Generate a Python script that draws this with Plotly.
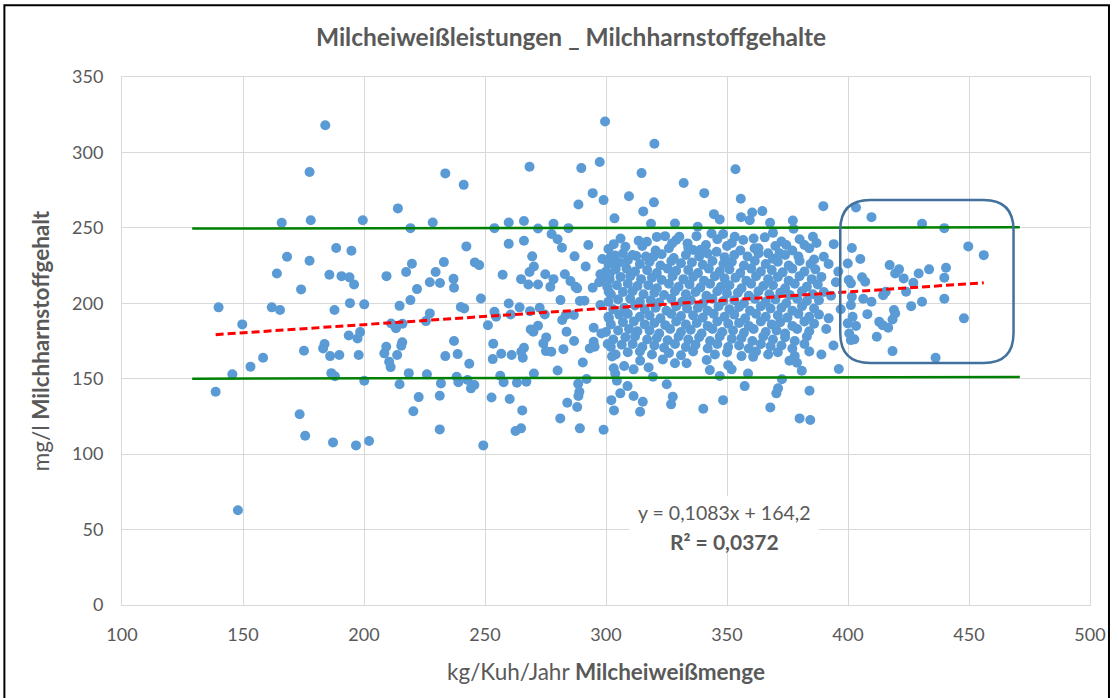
import plotly.graph_objects as go

# ---------------- data: (kg protein / cow / year, mg/l urea) ----------------
low_yield_cows = [
    (184,318),(177.5,287),(166,253.4),(178,255),(199.5,255),(188.5,236.6),(194.8,234.8),(168.2,230.8),
    (177.5,228.2),(164,219.8),(185.7,218.9),(190.7,218),(194,217.2),(195.9,212.5),(174,209.2),
    (139.9,197.3),(161.9,197.3),(165.3,195.5),(187.8,195.5),(194.2,200.1),(200.1,199.3),(149.7,186),
    (193.7,178.7),(198.4,180.9),(197.3,176.7),(175.2,168.5),(183.7,173),(183.1,170.1),(186,165),
    (189.8,165.7),(197.8,165.7),(158.3,163.9),(153.1,158),(145.6,152.9),(186.5,153.7),(188,151.6),
    (200.1,148.6),(138.7,141.4),(173.4,126.4),(175.7,112.2),(187.2,107.8),(196.7,105.8),(202.1,108.7),
    (147.9,62.8),
]

mid_upper_cows = [
    (299.6,320.5),(268.4,290.5),(289.8,289.6),(297.4,293.6),(233.6,286.1),(241.2,278.5),(294.5,273),
    (299,268.4),(288.6,265.5),(214,262.9),(228.4,253.6),(219.2,249.8),(253.9,249.8),(259.8,253.6),
    (266.1,254.5),(271.9,249.6),(278.3,252.7),(284.5,249.8),(303.5,256.3),(277.5,245.9),(280,242.5),
    (281.8,236.8),(259.8,239.4),(266.1,241.4),(292.7,238.6),(242.3,237.7),(303.2,239.2),(269.5,231.1),
    (287,231.1),(298.5,229.3),(301.4,228.2),(291.6,224.4),(245.8,227.1),(247.6,225.3),(233,227.3),
    (219.8,226.2),(270.2,224.4),(268.4,220.7),(209.3,218),(217.4,220.7),(229.6,220.7),(237,216.2),
    (227.2,214),(231.4,213.4),(221.9,209.4),(237.2,210.3),(257.3,218.9),(264.9,216),(267.9,212.5),
    (271.9,212.5),(274.9,219.2),(278.3,216),(277,210.9),(283,219.2),(285.3,214.7),(287.4,210.9),
    (294.5,210.3),(297.7,219.2),(297.2,213.9),(300,214.7),(301.5,219.2),(303.2,226.4),(303.7,231.7),
]

mid_lower_cows = [
    (219.2,202.1),(214.7,198.3),(248.3,203.2),(240,197.5),(241.4,196.6),(227.2,193.3),(225.6,188.2),
    (211.2,186.6),(213.2,183.4),(215.9,186.4),(215.8,174.1),(215.4,171.8),(209.2,171.2),(208.4,166.8),
    (213.7,165.7),(210.4,161.3),(211,157.7),(237.2,175),(233.6,165),(238.7,166.3),(243.5,159.9),
    (218.5,153.7),(226,152.9),(214.7,146.3),(231.8,146.9),(238.3,151.3),(239,147.6),(242.8,149.1),
    (244.2,143.6),(245.6,145.8),(222.6,137.8),(231.3,138.7),(220.4,128.4),(231.3,116.4),(249.3,105.8),
    (251.2,185.4),(253.4,173.2),(253.2,163),(256.7,166.5),(253.9,194.4),(254.6,191.1),(259.8,199.9),
    (264.3,197.3),(260.6,192.6),(261,165.7),(265,167.9),(266.1,170.5),(265.6,163.9),(256.3,152),
    (257.7,147.6),(263.2,147.3),(267.1,148),(270.2,153.5),(252.7,137.6),(260.2,136.5),(265.4,129),
    (262.6,115.3),(264.9,117.1),(268.6,194.8),(272.6,197),(268.9,182.7),(271.9,185.1),(270,181.1),
    (274.1,173.4),(275.3,177.4),(275.2,168.3),(277.4,167.9),(282.4,169.6),(286.8,175),(280,155.5),
    (290.4,160.8),(292,149.8),(288.5,146.7),(289,141.4),(288.6,138.5),(284,134.1),(288.1,131.2),
    (281.1,123.7),(289.2,117.1),(299,116.2),(274.7,192.6),(281.2,202.1),(281.9,188.9),(283.7,181.1),
    (283.4,192.2),(286.7,192.2),(289.2,201.5),(291.1,201.7),(297.7,198.8),(294.9,183.8),(298.1,180),
    (294.9,174.5),(295.3,171.2),(293.3,170.1),(301.2,190),(300.7,173),(302.5,164.8),(303.2,156.9),
    (302.2,135.8),(303.3,129),(288.1,209.9),(301.1,207.6),
]

high_upper_cows = [
    (320,305.7),(314.7,286.3),(332.1,279.7),(353.5,288.9),(340.6,273),(355.7,269.3),(309.5,271),
    (315.4,260.9),(319.8,266.9),(389.8,264.4),(355.8,257.1),(360.4,260.2),(364.6,261.1),(359.4,255.1),
    (344.6,259.1),(347,255.6),(318.6,252.7),(328.5,252.9),(337.9,250.7),(377.2,254.9),(377.5,249.4),
    (367.8,253.4),(394.1,239.2),(316.9,240.8),(312.5,231.3),(324.4,244.5),(327.3,239.7),(330.3,244.1),
    (333.7,239.7),(337.4,244.5),(341.3,238.6),(343.6,246.3),(348.4,245.9),(353.2,244.1),(356.7,241.9),
    (365.6,243.7),(369,246.7),(374.5,238.6),(382,238.6),(385.5,244.1),(390,230.8),(336,235.3),
    (345.7,234.1),(361.4,236.4),(367,233.1),(371.7,233.1),(319.6,230.8),
]

high_lower_cows = [
    (303.8,153.5),(304.5,148.6),(305.9,140.3),(308.9,145.1),(311.4,138.5),(315.2,134.7),(314.1,128.1),
    (307.5,158.4),(311.4,156.2),(314.1,161.9),(317.6,157.5),(319.4,151.3),(323.5,162.8),(325.1,146.3),
    (327.6,138),(326.9,133),(328.5,160.2),(333.3,160.2),(340.2,130.1),(342.9,155.7),(347,151.8),
    (348.4,135.8),(350.5,159),(351.9,156.2),(341.6,162.4),(357.3,145.1),(358.7,153.5),(360.8,164.5),
    (367.9,131),(370.4,140.3),(371.1,143.6),(372.7,149.6),(375.8,161.9),(378.9,160.6),(380.9,155.3),
    (384.1,142),(380,123.7),(384.4,122.6),(396.2,156.4),
    (392,226),(395,214),(393,205),(397,196),(391,183),(394,172),(389,166),(396,221),(392,190),
]

top_yield_cows = [
    (403.3,263.5),(409.7,257.1),(430.6,252.7),(439.8,249.8),(449.7,237.7),(456.1,231.9),(401.6,236.6),
    (405.1,229.3),(399.9,226.4),(417.2,225.3),(421.1,222.5),(419.5,219.8),(429.2,219.8),(433.5,222.5),
    (440.5,223.5),(439.8,216.9),(423,216.5),(427,213.6),(424,207.6),(400.3,215.4),(405.8,217.2),
    (407.1,214.3),(401.2,213.2),(414.5,205.4),(415.6,207.6),(401.6,204.3),(406.3,203),(409.7,201),
    (401.2,198.8),(439.8,203),(430.6,201),(426.1,198.1),(419,195.5),(419.5,193.3),(408,192.8),
    (401.9,191),(418.4,189.3),(412.9,187.7),(414.3,185.5),(416.6,183.8),(403.3,184.9),(399.9,186.7),
    (447.9,190),(400.5,180),(401.2,175.6),(402.6,176.1),(411.9,177.8),(418.4,168.3),(436.2,163.9),
]

core_cows = [
    (306,243),(313.5,241.5),(321,244),(329,242),(346,242.5),(352,240),(361,243),(372.5,241),(380,242.5),(387,240),
    (301,236),(308,237.5),(315,238),(320.5,235),(326,236.5),(334,237),(339,235.5),(350,238),(355.5,235),(363,236.5),
    (370,238),(377,235),(384,236.5),
    (302,231),(307,233),(311,232),(316.5,231),(323,232.5),(328,230),(333,232),(338.5,231),(342,233),(349,230.5),
    (353,232),(358.5,231),(363,233),(369,229.5),(374,232),(379.5,231),(386,229),
    (301,226),(305.5,227),(309,228.5),(314,226),(318,227.5),(322.5,225),(327,228),(331,226.5),(335.5,227),(340,225.5),
    (344,228),(348.5,226),(352,227.5),(357,225),(361.5,228),(366,226),(371,227.5),(375.5,225),(380,228),(384.5,226),
    (300,221),(304,222.5),(308.5,223),(312,221),(317,222),(321,220),(325.5,223),(329,221.5),(334,222),(338,220),
    (342.5,223),(347,221),(351,222.5),(355.5,220),(360,223),(364,221),(368.5,222),(373,220.5),(377,223),(382,221),(386.5,222.5),
    (301.5,216),(306,217.5),(310,218),(314.5,216),(319,217),(323,215.5),(327.5,218),(332,216),(336,217.5),(340.5,215),
    (345,218),(349,216.5),(353.5,217),(358,215),(362,218),(367,216),(371,217.5),(375.5,215),(380,218),(385,216),(389,217.5),
    (300.5,211),(304.5,212),(309,213),(313,211.5),(317.5,212),(321,210),(326,213),(330,211),(334.5,212.5),(339,210.5),
    (343,213),(347.5,211),(351,212),(356,210),(360,213),(365,211.5),(369,212),(374,210),(378,213),(383,211),(387.5,212.5),
    (302,206),(307,207.5),(311,208),(315.5,206),(320,207),(324,205.5),(328.5,208),(333,206),(337,207.5),(341.5,205),
    (346,208),(350,206.5),(354.5,207),(359,205),(363,208),(367.5,206),(372,207),(376,205.5),(381,208),(385.5,206),(390,207.5),
    (301,201),(305,202.5),(310,203),(314,201),(318.5,202),(322,200.5),(327,203),(331.5,201),(335,202),(340,200),
    (344,203),(348.5,201.5),(353,202),(357,200),(361.5,203),(366,201),(370,202.5),(374.5,200),(379,203),(383,201.5),(388,202),
    (303,196),(307.5,197),(312,198.5),(316,196),(320.5,197),(325,195),(329,198),(333.5,196.5),(338,197),(342,195),
    (346.5,198),(351,196),(355,197.5),(359.5,195),(364,198),(368,196.5),(372.5,197),(377,195),(381,198),(386,196.5),
    (301,191),(305.5,192.5),(309,193),(314,191),(318,192),(322.5,190),(327,193),(331,191.5),(336,192),(340,190.5),
    (344.5,193),(349,191),(353,192.5),(357.5,190),(362,193),(366,191),(371,192),(375,190.5),(379.5,193),(384,191),(388,192.5),
    (302,186),(307,187.5),(311.5,188),(316,186),(320,187),(324.5,185.5),(329,188),(333,186),(337.5,187),(342,185),
    (346,188),(350.5,186.5),(355,187),(359,185),(364,188),(368.5,186),(372,187.5),(377,185),(382,188),(386,186.5),
    (300,181),(305,182),(309.5,183),(313,181.5),(318,182),(322,180),(326.5,183),(331,181),(335,182.5),(339.5,180),
    (344,183),(348,181),(352.5,182),(357,180.5),(361,183),(366,181),(370.5,182),(374,180),(379,183),(384,181.5),
    (303,176),(308,177.5),(312,178),(317,176),(321,177),(325.5,175.5),(330,178),(334,176),(338.5,177.5),(343,175),
    (347,178),(352,176.5),(356,177),(360.5,175),(365,178),(369,176),(374,177.5),(378,175),(383,178),
    (302,171),(306.5,172.5),(311,173),(315,171),(320,172),(324,170.5),(328.5,173),(333,171),(337,172.5),(342,170),
    (346,173),(350.5,171),(355,172),(359,170),(364,173),(368,171.5),(372.5,172),(377,170),(382,173),
    (304,166),(309,167.5),(314,168),(319,166),(326,167),(331,165.5),(336,168),(345,166),(350,167.5),(356,165),
    (362,168),(367,166),(371,167.5),(378,165),(384,168),
]

# trendline (as printed in the chart) and limit lines
TREND_SLOPE = 0.1083
TREND_INTERCEPT = 164.2
LIMIT_X = [129, 471]
UPPER_LIMIT = [249.5, 250.4]
LOWER_LIMIT = [150.0, 151.2]

X_TICKS = [100, 150, 200, 250, 300, 350, 400, 450, 500]
Y_TICKS = [0, 50, 100, 150, 200, 250, 300, 350]

all_cows = (low_yield_cows + mid_upper_cows + mid_lower_cows + high_upper_cows
            + high_lower_cows + top_yield_cows + core_cows)
protein = [c[0] for c in all_cows]
urea = [c[1] for c in all_cows]

GRAY = "#595959"
FONT = "Lato, 'Open Sans', sans-serif"

fig = go.Figure()
fig.add_trace(go.Scatter(
    x=protein, y=urea, mode="markers",
    marker=dict(color="#5B9BD5", size=10, line=dict(width=0)),
    hoverinfo="x+y",
))

# limit lines
fig.add_trace(go.Scatter(x=LIMIT_X, y=UPPER_LIMIT, mode="lines",
                         line=dict(color="#008000", width=2.5), hoverinfo="skip"))
fig.add_trace(go.Scatter(x=LIMIT_X, y=LOWER_LIMIT, mode="lines",
                         line=dict(color="#008000", width=2.5), hoverinfo="skip"))

# linear trendline across data range
tx = [min(protein), max(protein)]
ty = [TREND_SLOPE * v + TREND_INTERCEPT for v in tx]
fig.add_trace(go.Scatter(x=tx, y=ty, mode="lines",
                         line=dict(color="#FF0000", width=3, dash="8px,4px"), hoverinfo="skip"))

# rounded highlight box
bx0, bx1, by0, by1 = 396.8, 468.4, 160.4, 268.4
rx, ry = 12.4, 19.9
path = (f"M {bx0+rx},{by1} L {bx1-rx},{by1} Q {bx1},{by1} {bx1},{by1-ry} "
        f"L {bx1},{by0+ry} Q {bx1},{by0} {bx1-rx},{by0} L {bx0+rx},{by0} "
        f"Q {bx0},{by0} {bx0},{by0+ry} L {bx0},{by1-ry} Q {bx0},{by1} {bx0+rx},{by1} Z")
fig.add_shape(type="path", path=path, xref="x", yref="y",
              line=dict(color="#41719C", width=2.5), layer="above")

# white label background
fig.add_shape(type="rect", xref="x", yref="y", x0=309.7, x1=388.0, y0=34.4, y1=72.2,
              fillcolor="white", line=dict(width=0), layer="between")

# outer frame
fig.add_shape(type="rect", xref="paper", yref="paper", x0=-0.1215, x1=1.0196, y0=-0.25, y1=1.136,
              line=dict(color="black", width=2), fillcolor="rgba(0,0,0,0)", layer="above")

fig.add_annotation(x=349, y=61.2, xref="x", yref="y", text="y = 0,1083x + 164,2",
                   showarrow=False, font=dict(family=FONT, size=19.5, color=GRAY))
fig.add_annotation(x=349, y=41.8, xref="x", yref="y", text="<b>R² = 0,0372</b>",
                   showarrow=False, font=dict(family=FONT, size=21, color=GRAY))

fig.update_layout(
    width=1118, height=698,
    margin=dict(l=122, r=25, t=77, b=93),
    paper_bgcolor="white", plot_bgcolor="white",
    showlegend=False,
    font=dict(family=FONT, color=GRAY),
    title=dict(text="<b>Milcheiweißleistungen _ Milchharnstoffgehalte</b>",
               x=571 / 1118, xanchor="center", y=1 - 37 / 698, yanchor="middle",
               font=dict(family=FONT, size=24.5, color=GRAY)),
)
fig.update_xaxes(
    range=[100, 500], tickvals=X_TICKS, showgrid=True, gridcolor="#D9D9D9", gridwidth=1,
    showline=True, linecolor="#D9D9D9", mirror=True, zeroline=False,
    ticks="outside", ticklen=13, tickcolor="rgba(0,0,0,0)",
    tickfont=dict(family=FONT, size=18, color=GRAY),
    title=dict(text="kg/Kuh/Jahr <b>Milcheiweißmenge</b>", standoff=20,
               font=dict(family=FONT, size=22.5, color=GRAY)),
)
fig.update_yaxes(
    range=[0, 350], tickvals=Y_TICKS, showgrid=True, gridcolor="#D9D9D9", gridwidth=1,
    showline=True, linecolor="#D9D9D9", mirror=True, zeroline=False,
    ticks="outside", ticklen=14, tickcolor="rgba(0,0,0,0)",
    tickfont=dict(family=FONT, size=18, color=GRAY),
    title=dict(text="mg/l <b>Milchharnstoffgehalt</b>", standoff=16,
               font=dict(family=FONT, size=22.5, color=GRAY)),
)

fig.write_html("out.html", config={"displayModeBar": False},
               post_script="document.body.style.margin='0px';")
